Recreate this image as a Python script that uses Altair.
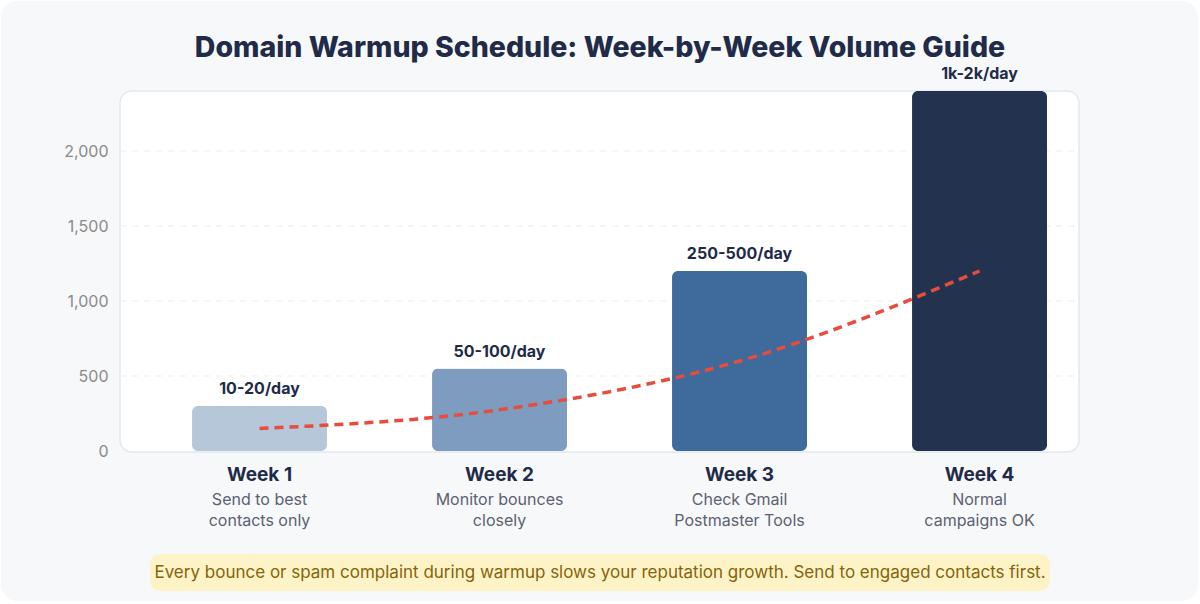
import altair as alt
import pandas as pd

# ---- data ----
weeks = ["Week 1", "Week 2", "Week 3", "Week 4"]
bar_values = [300, 550, 1200, 2400]
trend_values = [150, 275, 600, 1200]
bar_labels = ["10-20/day", "50-100/day", "250-500/day", "1k-2k/day"]
notes_line1 = ["Send to best", "Monitor bounces", "Check Gmail", "Normal"]
notes_line2 = ["contacts only", "closely", "Postmaster Tools", "campaigns OK"]
bar_colors = ["#b6c7da", "#7d9cbf", "#3f6a9c", "#23324f"]
grid_values = [500, 1000, 1500, 2000]
y_ticks = [0, 500, 1000, 1500, 2000]
title_text = "Domain Warmup Schedule: Week-by-Week Volume Guide"
footer_text = ("Every bounce or spam complaint during warmup slows your reputation growth. "
               "Send to engaged contacts first.")

FONT = "Inter"
NAVY = "#1f2b48"

df = pd.DataFrame({
    "week": weeks,
    "volume": bar_values,
    "trend": trend_values,
    "label": bar_labels,
    "note1": notes_line1,
    "note2": notes_line2,
})
grid_df = pd.DataFrame({"g": grid_values})
one = pd.DataFrame({"k": [0]})

W, H = 960, 360

x_scale = alt.Scale(domain=weeks, paddingInner=0.4375, paddingOuter=0.21875, align=0.686)
y_scale = alt.Scale(domain=[0, 2400], nice=False, zero=True)
x_enc = alt.X("week:N", scale=x_scale, sort=weeks, axis=None)
y_axis = alt.Axis(values=y_ticks, format=",d", ticks=False, domain=False, grid=False,
                  labelFont=FONT, labelFontSize=16, labelColor="#8a8a8a",
                  labelPadding=12, zindex=2)

card = alt.Chart(one).mark_rect(cornerRadius=16, fill="#f7f8fa").encode(
    x=alt.value(-119), x2=alt.value(W + 118), y=alt.value(-90), y2=alt.value(H + 150)
)
plot_bg = alt.Chart(one).mark_rect(
    cornerRadius=12, fill="white", stroke="#e3e8ef", strokeWidth=1.5
).encode(x=alt.value(0), x2=alt.value(W - 1), y=alt.value(0), y2=alt.value(H + 1))

title = alt.Chart(pd.DataFrame({"t": [title_text]})).mark_text(
    font=FONT, fontSize=28.5, fontWeight=800, color=NAVY, baseline="middle", align="center"
).encode(x=alt.value(W / 2), y=alt.value(-43), text="t:N")

grid = alt.Chart(grid_df).mark_rule(color="#e9edf2", strokeDash=[6, 6], strokeWidth=1).encode(
    y=alt.Y("g:Q", scale=y_scale, title=None, axis=y_axis),
    x=alt.value(0), x2=alt.value(W),
)

bars = alt.Chart(df).mark_bar(cornerRadius=6).encode(
    x=x_enc,
    y=alt.Y("volume:Q", scale=y_scale, title=None, axis=y_axis),
    color=alt.Color("week:N", scale=alt.Scale(domain=weeks, range=bar_colors), legend=None),
)

line = alt.Chart(df).mark_line(
    color="#e74c3c", strokeWidth=3.5, strokeDash=[9, 6], interpolate="monotone"
).encode(x=x_enc, y=alt.Y("trend:Q", scale=y_scale, title=None, axis=y_axis))

bar_text = alt.Chart(df).mark_text(
    font=FONT, fontSize=16, fontWeight="bold", color=NAVY, baseline="bottom", dy=-9
).encode(x=x_enc, y=alt.Y("volume:Q", scale=y_scale, title=None, axis=y_axis), text="label:N")

week_text = alt.Chart(df).mark_text(
    font=FONT, fontSize=19, fontWeight="bold", color=NAVY, baseline="middle"
).encode(x=x_enc, y=alt.value(384), text="week:N")

note1_text = alt.Chart(df).mark_text(
    font=FONT, fontSize=16, color="#5b6270", baseline="middle"
).encode(x=x_enc, y=alt.value(409), text="note1:N")

note2_text = alt.Chart(df).mark_text(
    font=FONT, fontSize=16, color="#5b6270", baseline="middle"
).encode(x=x_enc, y=alt.value(430), text="note2:N")

footer_box = alt.Chart(one).mark_rect(cornerRadius=10, fill="#fef3c7").encode(
    x=alt.value(30), x2=alt.value(930), y=alt.value(463), y2=alt.value(500)
)
footer = alt.Chart(pd.DataFrame({"t": [footer_text]})).mark_text(
    font=FONT, fontSize=17, color="#85640a", baseline="middle", align="center"
).encode(x=alt.value(W / 2), y=alt.value(482), text="t:N")

chart = alt.layer(
    card, plot_bg, title, grid, bars, line, bar_text, week_text, note1_text, note2_text,
    footer_box, footer,
).properties(
    width=W, height=H,
    padding={"left": 120, "top": 91, "right": 120, "bottom": 153},
    autosize=alt.AutoSizeParams(type="none"),
).configure(background="white").configure_view(stroke=None, fill=None)

chart.save("out.html", embed_options={"renderer": "svg", "actions": False})
